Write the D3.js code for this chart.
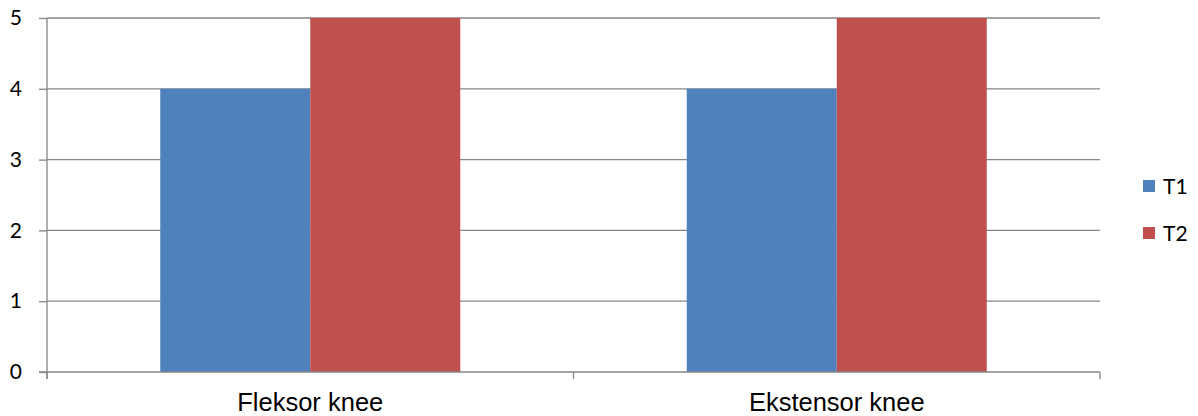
<!DOCTYPE html>
<html><head><meta charset="utf-8">
<script src="https://cdn.jsdelivr.net/npm/d3@7"></script>
<style>body{margin:0;background:#fff}svg{display:block}</style>
</head><body><svg id="c" width="1198" height="416"></svg>
<script>
const categories = ["Fleksor knee", "Ekstensor knee"];
const seriesNames = ["T1", "T2"];
const t1Values = [4, 4];
const t2Values = [5, 5];
const yTicks = [0, 1, 2, 3, 4, 5];
const colors = ["#4F81BD", "#C0504D"];

(function () {
const svg = d3.select("#c");
const mLeft = 47, mRight = 1100, mTop = 18, mBottom = 372;
const x0 = d3.scaleBand().domain(categories).range([mLeft, mRight]).padding(0);
const innerFrac = 300 / 526.5;
const x1 = d3.scaleBand().domain(seriesNames)
  .range([0, x0.bandwidth() * innerFrac]).padding(0);
const y = d3.scaleLinear().domain([0, 5]).range([mBottom, mTop]);
const gridColor = "#868686";

// gridlines
svg.append("g").selectAll("line").data(yTicks.filter(d => d > 0)).join("line")
  .attr("x1", mLeft).attr("x2", mRight)
  .attr("y1", d => y(d)).attr("y2", d => y(d))
  .attr("stroke", gridColor).attr("stroke-width", 1.3);

// bars
const series = [t1Values, t2Values];
const offset = x0.bandwidth() * (1 - innerFrac) / 2;
categories.forEach((c, ci) => {
  seriesNames.forEach((s, si) => {
    svg.append("rect")
      .attr("x", x0(c) + offset + x1(s))
      .attr("y", y(series[si][ci]))
      .attr("width", x1.bandwidth())
      .attr("height", y(0) - y(series[si][ci]))
      .attr("fill", colors[si]);
  });
});

// y axis
const yAxis = d3.axisLeft(y).tickValues(yTicks).tickSize(8).tickPadding(17).tickFormat(d3.format("d"));
const gy = svg.append("g").attr("transform", `translate(${mLeft},0)`).call(yAxis);
gy.select(".domain").remove();
gy.selectAll(".tick line").attr("stroke", gridColor).attr("stroke-width", 1.3);
gy.selectAll(".tick text").attr("font-family", "Lato, 'Open Sans', sans-serif")
  .attr("font-size", 21).attr("fill", "#000");
svg.append("line").attr("x1", mLeft).attr("x2", mLeft).attr("y1", mTop).attr("y2", mBottom + 7)
  .attr("stroke", gridColor).attr("stroke-width", 1.3);

// x axis
const xAxis = d3.axisBottom(x0).tickSize(0).tickPadding(21);
const gx = svg.append("g").attr("transform", `translate(0,${mBottom})`).call(xAxis);
gx.select(".domain").remove();
gx.selectAll(".tick line").remove();
gx.selectAll(".tick text").attr("font-family", "'Liberation Sans', Arial, sans-serif")
  .attr("font-size", 25.5).attr("fill", "#000");
svg.append("line").attr("x1", mLeft - 8).attr("x2", mRight).attr("y1", mBottom).attr("y2", mBottom)
  .attr("stroke", gridColor).attr("stroke-width", 1.3);
const boundaries = [x0.range()[0], ...categories.map(c => x0(c) + x0.bandwidth())];
svg.append("g").selectAll("line").data(boundaries).join("line")
  .attr("x1", d => d).attr("x2", d => d).attr("y1", mBottom).attr("y2", mBottom + 7)
  .attr("stroke", gridColor).attr("stroke-width", 1.3);

// legend
const lg = svg.append("g").attr("transform", "translate(1143,186)");
seriesNames.forEach((s, i) => {
  const g = lg.append("g").attr("transform", `translate(0,${i * 47})`);
  g.append("rect").attr("x", 0).attr("y", -6).attr("width", 12).attr("height", 12).attr("fill", colors[i]);
  g.append("text").attr("x", 20).attr("y", 0).attr("dy", "0.36em")
    .attr("font-family", "Lato, 'Open Sans', sans-serif").attr("font-size", 21).text(s);
});
})();
</script></body></html>
